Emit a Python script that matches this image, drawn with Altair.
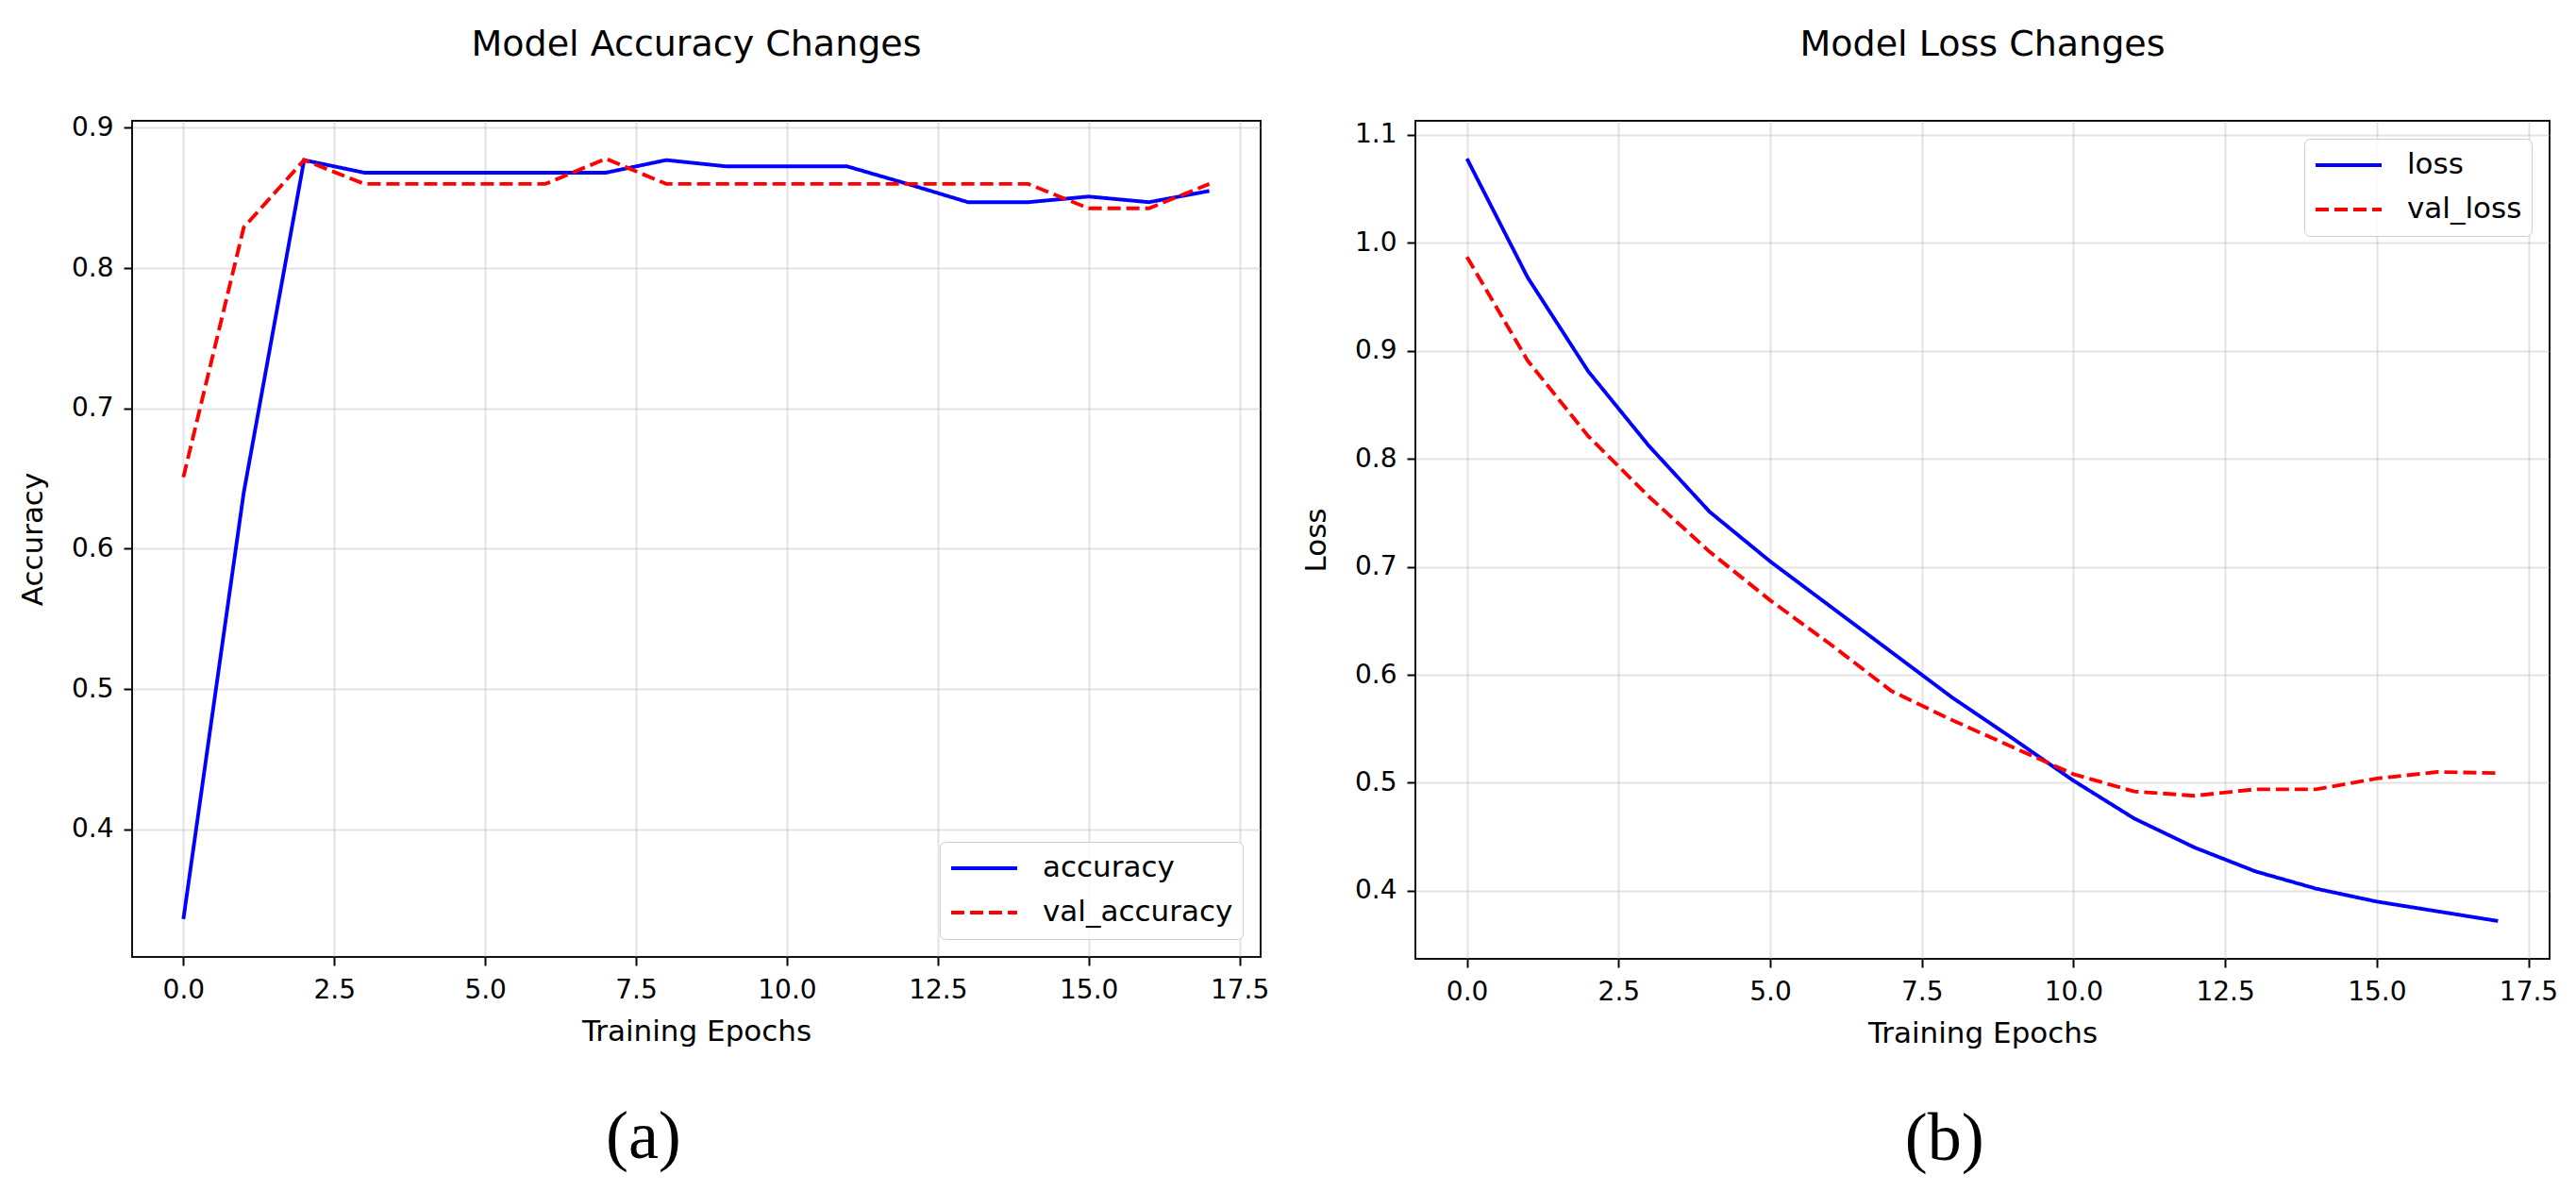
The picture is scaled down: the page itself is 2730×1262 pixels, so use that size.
import altair as alt
import pandas as pd

# ---------------- data ----------------
epochs = list(range(18))

accuracy = [0.336, 0.640, 0.877, 0.868, 0.868, 0.868, 0.868, 0.868, 0.877,
            0.8725, 0.8725, 0.8725, 0.860, 0.847, 0.847, 0.851, 0.847, 0.855]
val_accuracy = [0.651, 0.829, 0.877, 0.860, 0.860, 0.860, 0.860, 0.878, 0.860,
                0.860, 0.860, 0.860, 0.860, 0.860, 0.860, 0.8426, 0.8426, 0.860]

loss = [1.078, 0.968, 0.881, 0.812, 0.751, 0.705, 0.663, 0.621, 0.579,
        0.541, 0.502, 0.467, 0.440, 0.418, 0.402, 0.390, 0.381, 0.372]
val_loss = [0.987, 0.891, 0.821, 0.765, 0.714, 0.669, 0.628, 0.585, 0.558,
            0.533, 0.508, 0.492, 0.488, 0.494, 0.494, 0.504, 0.510, 0.509]

acc_names = ["accuracy", "val_accuracy"]
loss_names = ["loss", "val_loss"]

x_ticks = [0.0, 2.5, 5.0, 7.5, 10.0, 12.5, 15.0, 17.5]
acc_ticks = [0.4, 0.5, 0.6, 0.7, 0.8, 0.9]
loss_ticks = [0.4, 0.5, 0.6, 0.7, 0.8, 0.9, 1.0, 1.1]

x_domain = [-0.85, 17.85]
acc_domain = [0.309, 0.905]
loss_domain = [0.337, 1.113]

FONT = "DejaVu Sans"
SERIF = "Liberation Serif"


def make_df(a, b, names):
    return pd.DataFrame({
        "epoch": epochs + epochs,
        "value": a + b,
        "series": [names[0]] * len(a) + [names[1]] * len(b),
    })


def panel(df, names, title, ylabel, ydomain, yticks, legend_orient, w, h,
          title_dy):
    leg = alt.Legend(
        title=None,
        orient=legend_orient,
        offset=19,
        padding=10,
        labelFont=FONT,
        labelFontSize=31,
        labelColor="black",
        labelOffset=25,
        labelLimit=400,
        symbolType="stroke",
        symbolSize=4900,
        symbolStrokeWidth=4,
        clipHeight=36,
        rowPadding=11,
        strokeColor="#cccccc",
        fillColor="rgba(255,255,255,0.85)",
        cornerRadius=6,
    )
    base = alt.Chart(df).mark_line(strokeWidth=3.9, clip=True).encode(
        x=alt.X(
            "epoch:Q",
            scale=alt.Scale(domain=x_domain, nice=False, zero=False),
            axis=alt.Axis(
                values=x_ticks, format=".1f", title="Training Epochs",
                titleX=w / 2, titleY=88, titleBaseline="alphabetic",
                titleAlign="center", labelBaseline="alphabetic",
                labelPadding=34,
            ),
        ),
        y=alt.Y(
            "value:Q",
            scale=alt.Scale(domain=ydomain, nice=False, zero=False),
            axis=alt.Axis(
                values=yticks, format=".1f", title=ylabel,
                titleX=-96, titleY=h / 2, titleBaseline="alphabetic",
                titleAlign="center", titleAngle=-90, labelPadding=11,
            ),
        ),
        color=alt.Color(
            "series:N",
            scale=alt.Scale(domain=names, range=["#0000ff", "#ff0000"]),
            legend=leg, title=None,
        ),
        strokeDash=alt.StrokeDash(
            "series:N",
            scale=alt.Scale(domain=names, range=[[1, 0], [14, 6]]),
            legend=leg, title=None,
        ),
    ).properties(
        width=w, height=h,
        title=alt.Title(
            title, font=FONT, fontSize=38, fontWeight="normal", color="black",
            anchor="middle", frame="group", baseline="alphabetic", offset=24,
            dy=title_dy,
        ),
    )
    return base


left = panel(make_df(accuracy, val_accuracy, acc_names), acc_names,
             "Model Accuracy Changes", "Accuracy", acc_domain, acc_ticks,
             "bottom-right", 1196, 886, 0)
right = panel(make_df(loss, val_loss, loss_names), loss_names,
              "Model Loss Changes", "Loss", loss_domain, loss_ticks,
              "top-right", 1202, 888, -7)


def caption(ch, text, shift):
    return alt.vconcat(ch, title=alt.Title(
        text, orient="bottom", font=SERIF, fontSize=72, fontWeight="normal",
        color="black", anchor="middle", frame="bounds", baseline="alphabetic",
        offset=118, dx=shift,
    )).resolve_scale(color="independent", strokeDash="independent")


chart = alt.hconcat(
    caption(left, "(a)", 0), caption(right, "(b)", 16), spacing=32
).resolve_scale(
    color="independent", strokeDash="independent"
).properties(
    padding={"left": 10, "top": 20, "right": 5, "bottom": 5},
    background="white",
).configure_view(
    stroke="#111111", strokeWidth=2,
).configure_axis(
    domain=False,
    grid=True,
    gridColor="#b0b0b0",
    gridOpacity=0.35,
    gridWidth=2,
    ticks=True,
    tickColor="black",
    tickWidth=2,
    tickSize=9,
    labelFont=FONT,
    labelFontSize=28,
    labelColor="black",
    titleFont=FONT,
    titleFontSize=31,
    titleFontWeight="normal",
    titleColor="black",
)

chart.save("out.html", embed_options={"renderer": "svg", "actions": False})
